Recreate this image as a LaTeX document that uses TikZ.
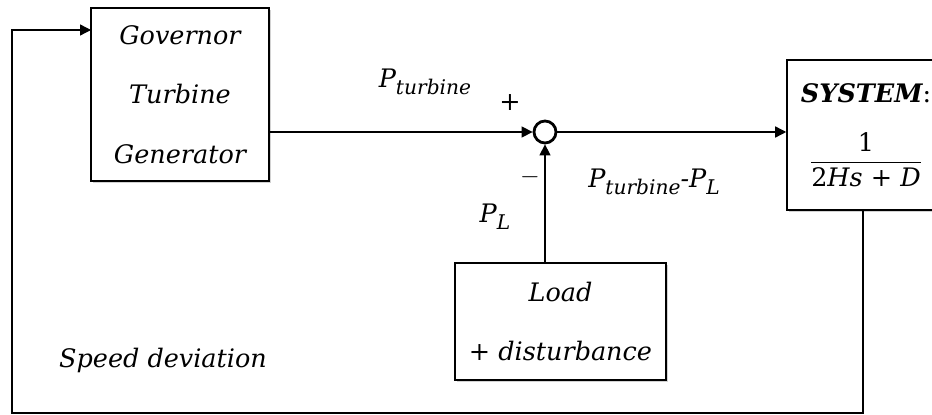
\documentclass[tikz,border=0pt]{standalone}
\usepackage{fontspec}
\setmainfont{DejaVu Serif}
\usetikzlibrary{positioning, arrows.meta, shadows}
\newcommand{\lowsub}[1]{\raisebox{-0.5ex}{\fontsize{11.5}{13}\selectfont #1}}

\begin{document}
\begin{tikzpicture}[x=0.02cm, y=-0.02cm,
font=\fontsize{14.5}{17}\selectfont\itshape,
block/.style={rectangle, draw, line width=0.9pt, fill=white, align=center,
  drop shadow={opacity=0.35, shadow xshift=1.2pt, shadow yshift=-1.2pt}},
sumpt/.style={circle, draw, line width=1.6pt, minimum size=0.44cm, inner sep=0pt, fill=white},
sig/.style={-{Triangle[length=2.2mm, width=2.2mm]}, line width=0.8pt},
lbl/.style={inner sep=1pt}
]
\clip (0,0) rectangle (932,415);
\fill[white] (0,0) rectangle (932,415);
% blocks
\node[block, minimum width=3.56cm, minimum height=3.46cm] (gov) at (180,94.5)
  {Governor\\[17pt] Turbine\\[17pt] Generator};
\node[block, minimum width=3.16cm, minimum height=3cm] (sys) at (866,135)
  {\textbf{SYSTEM}\upshape:\\[16pt]
   $\displaystyle\frac{\mbox{\upshape 1}}{\mbox{\upshape 2\textit{Hs} + \textit{D}}}$};
\node[block, minimum width=4.22cm, minimum height=2.34cm] (load) at (560.5,321.5)
  {Load\\[17pt] + disturbance};
\node[sumpt] (sum) at (545,132) {};
\coordinate (govin) at (91,30);
\coordinate (fbr) at (863,413);
\coordinate (fbl) at (12,413);
% signals
\draw[sig] (gov.east |- sum.west) -- (sum.west);
\draw[sig] (sum.east) -- (sum.east -| sys.west);
\draw[sig] (sum |- load.north) -- (sum.south);
\draw[sig] (fbr |- sys.south) -- (fbr) -- (fbl) |- (govin);
% labels
\node[lbl] (pturb) at (425,82) {P\lowsub{turbine}};
\node[lbl] (plus) at (510,103) {\upshape +};
\node[lbl] (minus) at (530,177) {$-$};
\node[lbl] (pl) at (495,217) {P\lowsub{L}};
\node[lbl] (pdiff) at (654,182) {P\lowsub{turbine}-P\lowsub{L}};
\node[lbl] (speed) at (163,360) {Speed deviation};
\end{tikzpicture}
\end{document}
